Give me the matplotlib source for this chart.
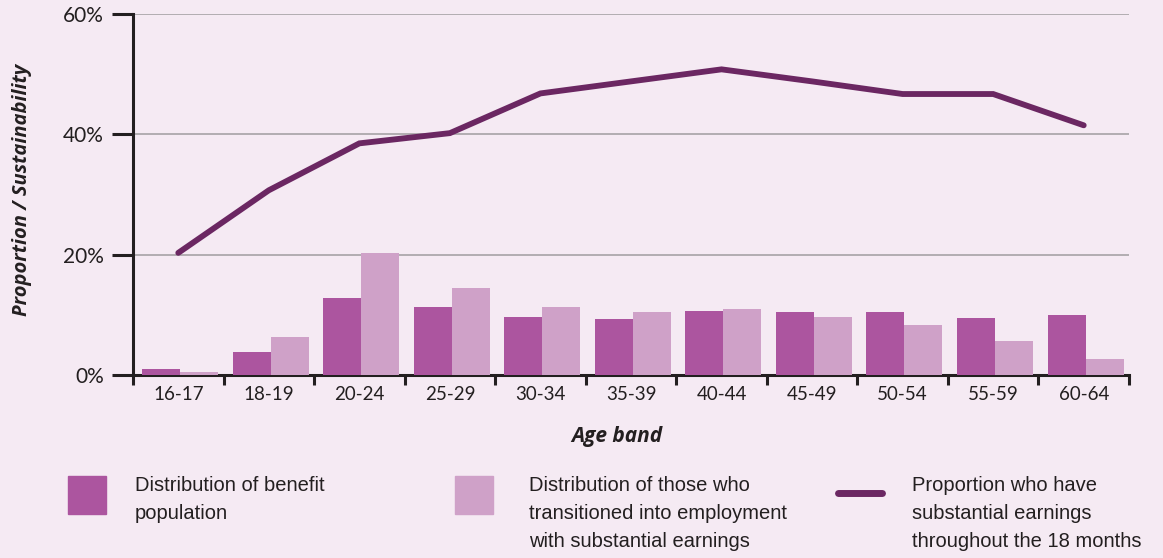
import matplotlib
matplotlib.use('Agg')
import matplotlib.pyplot as plt
from matplotlib.patches import Rectangle
from matplotlib.lines import Line2D
from matplotlib.ticker import FixedLocator, PercentFormatter
import numpy as np

# data (percent)
age_bands = ['16-17', '18-19', '20-24', '25-29', '30-34', '35-39',
             '40-44', '45-49', '50-54', '55-59', '60-64']
benefit_pop = [1.0, 3.8, 12.8, 11.3, 9.6, 9.3, 10.6, 10.5, 10.5, 9.5, 10.0]
transitioned = [0.5, 6.3, 20.3, 14.4, 11.3, 10.5, 11.0, 9.6, 8.3, 5.6, 2.7]
sustained = [20.3, 30.7, 38.5, 40.2, 46.8, 48.8, 50.8, 48.8, 46.7, 46.7, 41.5]

legend_labels = ['Distribution of benefit\npopulation',
                 'Distribution of those who\ntransitioned into employment\nwith substantial earnings',
                 'Proportion who have\nsubstantial earnings\nthroughout the 18 months']

bg = '#f5eaf3'
dark = '#ac559f'
light = '#cfa1c8'
line_col = '#6b2762'
ink = '#231f20'

plt.rcParams['font.family'] = ['Lato', 'DejaVu Sans']

fig = plt.figure(figsize=(11.63, 5.58), dpi=100, facecolor=bg)
ax = fig.add_axes([133/1163, 1 - 375/558, (1129 - 133)/1163, (375 - 14)/558])
ax.set_facecolor(bg)

x = np.arange(len(age_bands))
w = 0.42
ax.bar(x - w/2 + 0.02, benefit_pop, width=w, color=dark, zorder=3)
ax.bar(x + w/2 + 0.02, transitioned, width=w, color=light, zorder=3)
ax.plot(x, sustained, color=line_col, lw=4.2, solid_capstyle='round',
        solid_joinstyle='miter', zorder=4)

ax.set_xlim(-0.5, len(age_bands) - 0.5)
ax.set_ylim(0, 60)

# y axis
ax.yaxis.set_major_locator(FixedLocator([0, 20, 40, 60]))
ax.yaxis.set_major_formatter(PercentFormatter(decimals=0))
ax.tick_params(axis='y', length=15, width=2.2, color=ink, labelsize=15,
               labelcolor=ink, pad=6)
ax.grid(True, axis='y', color='#a6a2a6', lw=1.2, zorder=1)

# x axis: ticks at category boundaries, labels centred
ax.set_xticks(np.arange(len(age_bands) + 1) - 0.5)
ax.set_xticklabels([])
ax.set_xticks(x, minor=True)
ax.set_xticklabels(age_bands, minor=True)
ax.tick_params(axis='x', which='major', length=7.5, width=2.2, color=ink)
ax.tick_params(axis='x', which='minor', length=0, labelsize=13.5,
               labelcolor=ink, pad=8)

for s in ['top', 'right']:
    ax.spines[s].set_visible(False)
for s in ['left', 'bottom']:
    ax.spines[s].set_linewidth(2.2)
    ax.spines[s].set_color(ink)

lab_font = ['Open Sans', 'DejaVu Sans']
ax.set_xlabel('Age band', fontsize=15, fontstyle='italic', fontweight='bold',
              color=ink, family=lab_font)
ax.xaxis.set_label_coords(0.486, -0.14)
ax.set_ylabel('Proportion / Sustainability', fontsize=14.5, fontstyle='italic',
              fontweight='bold', color=ink, family=lab_font)
ax.yaxis.set_label_coords(-0.101, 0.512)

# legend built by hand
def px(xp, yp):
    return xp / 1163, 1 - yp / 558

leg_font = ['Liberation Sans', 'DejaVu Sans']
for x0, col in [(68, dark), (455, light)]:
    fig.patches.append(Rectangle(px(x0, 514), 38/1163, 38/558,
                                 transform=fig.transFigure, color=col))
fig.lines.append(Line2D([838/1163, 882/1163], [1 - 493/558] * 2,
                        transform=fig.transFigure, color=line_col, lw=5,
                        solid_capstyle='round'))
for x0, lab in zip([135, 529, 912], legend_labels):
    fig.text(*px(x0, 476), lab, ha='left', va='top', fontsize=14.5,
             family=leg_font, color=ink, linespacing=1.6)

fig.savefig('out.png', dpi=100, facecolor=bg)
